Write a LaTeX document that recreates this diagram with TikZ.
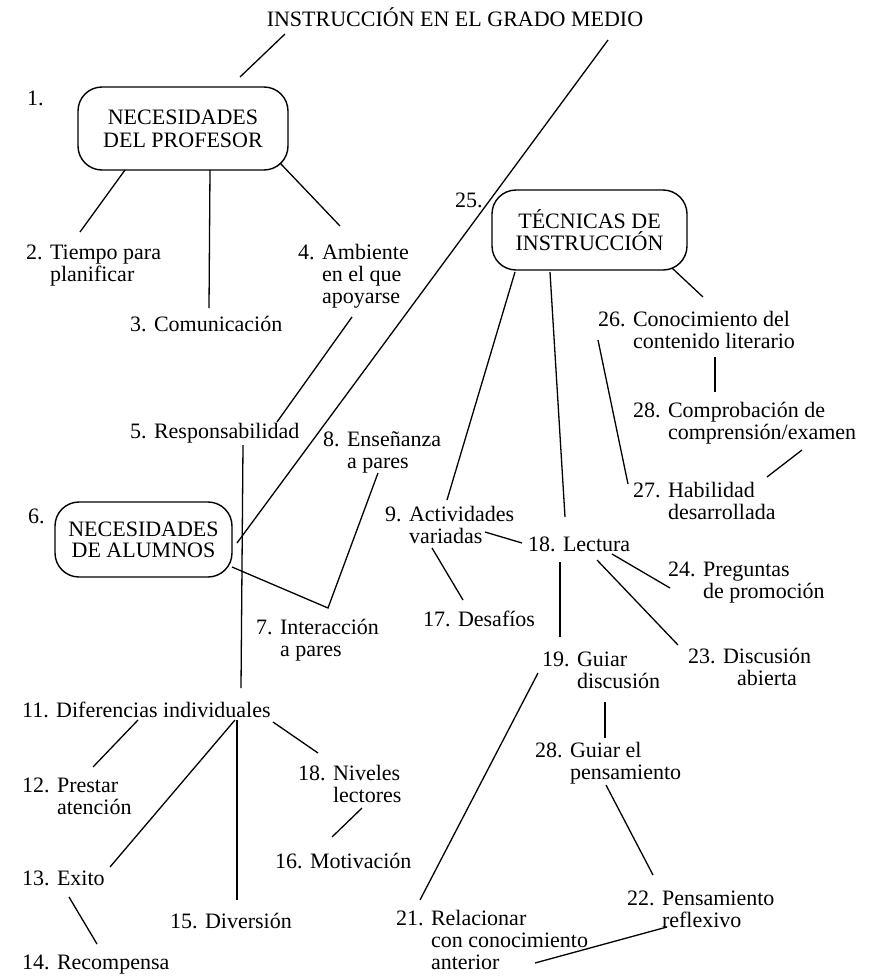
\documentclass[tikz,border=0pt]{standalone}
\usepackage{fontspec}
\setmainfont{Liberation Serif}
\usetikzlibrary{calc}
% numbered entry with hanging indent: number, then lines aligned under the first word
\newcommand{\entry}[2]{\begin{tabular}[t]{@{}r@{ }l@{}}#1&#2\end{tabular}}
\newcommand{\centry}[2]{\begin{tabular}[t]{@{}r@{ }c@{}}#1&#2\end{tabular}}
\begin{document}
\begin{tikzpicture}[x=1pt,y=-1pt,
  font=\fontsize{22}{22.4}\selectfont,
  lbl/.style={inner sep=0pt, anchor=base west},
  hub/.style={draw, line width=1.4pt, rounded corners=24pt, align=center, inner sep=0pt},
  link/.style={line width=1.3pt}]
\useasboundingbox (0,0) rectangle (887,977);

% title
\node[inner sep=0pt, anchor=base] (T) at (455,27) {INSTRUCCIÓN EN EL GRADO MEDIO};

% main boxes
\node[hub, minimum width=210pt, minimum height=83pt, font=\fontsize{22}{23}\selectfont] (B1) at (183,128.5) {NECESIDADES\\DEL PROFESOR};
\node[hub, minimum width=177pt, minimum height=75pt, font=\fontsize{22}{21}\selectfont] (B6) at (143.5,539.5) {NECESIDADES\\DE ALUMNOS};
\node[hub, minimum width=195pt, minimum height=80pt, font=\fontsize{22}{21.5}\selectfont] (BT) at (589.5,230) {TÉCNICAS DE\\INSTRUCCIÓN};

% box numbers
\node[lbl] (k1) at (27,105) {1.};
\node[lbl] (k6) at (28,523) {6.};
\node[lbl] (k25) at (455,207) {25.};

% left branch labels
\node[lbl] (n2) at (26,259) {\entry{2.}{Tiempo para\\&planificar}};
\node[lbl] (n3) at (130,331) {3. Comunicación};
\node[lbl] (n4) at (298,259) {\entry{4.}{Ambiente\\&en el que\\&apoyarse}};
\node[lbl] (n5) at (130,438) {5. Responsabilidad};
\node[lbl] (n8) at (323,446) {\entry{8.}{Enseñanza\\&a pares}};
\node[lbl] (n7) at (256,634) {\entry{7.}{Interacción\\&a pares}};
\node[lbl] (n11) at (22,717) {11. Diferencias individuales};
\node[lbl] (n12) at (22,792) {\entry{12.}{Prestar\\&atención}};
\node[lbl] (n18N) at (298,780) {\entry{18.}{Niveles\\&lectores}};
\node[lbl] (n16) at (275,868) {16. Motivación};
\node[lbl] (n13) at (22,885) {13. Exito};
\node[lbl] (n15) at (170,928) {15. Diversión};
\node[lbl] (n14) at (22,969) {14. Recompensa};

% right branch labels
\node[lbl] (n9) at (385,521) {\entry{9.}{Actividades\\&variadas}};
\node[lbl] (n18L) at (528,551) {18. Lectura};
\node[lbl] (n17) at (423,626) {17. Desafíos};
\node[lbl] (n26) at (598,326) {\entry{26.}{Conocimiento del\\&contenido literario}};
\node[lbl] (n28a) at (633,417) {\entry{28.}{Comprobación de\\&comprensión/examen}};
\node[lbl] (n27) at (633,497) {\entry{27.}{Habilidad\\&desarrollada}};
\node[lbl] (n24) at (668,576) {\entry{24.}{Preguntas\\&de promoción}};
\node[lbl] (n23) at (688,663) {\centry{23.}{Discusión\\&abierta}};
\node[lbl] (n19) at (542,666) {\entry{19.}{Guiar\\&discusión}};
\node[lbl] (n28b) at (535,757) {\entry{28.}{Guiar el\\&pensamiento}};
\node[lbl] (n22) at (627,905) {\entry{22.}{Pensamiento\\&reflexivo}};
\node[lbl] (n21) at (396,925) {\entry{21.}{Relacionar\\&con conocimiento\\&anterior}};

% connectors
\draw[link] ($(T.base)+(-170,7)$) -- ($(B1.center)+(57,-51.5)$);
\draw[link] ($(T.base)+(153,13)$) -- ($(B6.center)+(93.5,3.5)$);
\draw[link] ($(B1.center)+(-58,41.5)$) -- ($(n2.base west)+(54,-27)$);
\draw[link] ($(B1.center)+(27,41.5)$) -- ($(n3.base west)+(79,-23)$);
\draw[link] ($(B1.center)+(97,34.5)$) -- ($(n4.base west)+(42,-33)$);
\draw[link] ($(n4.base west)+(54,58)$) -- ($(n5.base west)+(147,-16)$);
\draw[link] ($(n5.base west)+(113,7)$) -- ($(n11.base west)+(219,-29)$);
\draw[link] ($(B6.center)+(88.5,27.5)$) -- ($(n7.base west)+(72,-26)$) -- ($(n8.base west)+(55,27)$);
\draw[link] ($(BT.center)+(-74.5,42)$) -- ($(n9.base west)+(62,-21)$);
\draw[link] ($(BT.center)+(-39.5,42)$) -- ($(n18L.base west)+(37,-34)$);
\draw[link] ($(BT.center)+(82.5,38)$) -- ($(n26.base west)+(105,-29)$);
\draw[link] ($(n26.base west)+(0,14)$) -- ($(n27.base west)+(-5,-13)$);
\draw[link] ($(n26.base west)+(117,31)$) -- ($(n28a.base west)+(82,-25)$);
\draw[link] ($(n28a.base west)+(169,33)$) -- ($(n27.base west)+(134,-20)$);
\draw[link] ($(n9.base west)+(100,11)$) -- ($(n18L.base west)+(-6,-8)$);
\draw[link] ($(n9.base west)+(47,27)$) -- ($(n17.base west)+(40,-26)$);
\draw[link] ($(n18L.base west)+(84,3)$) -- ($(n24.base west)+(2,12)$);
\draw[link] ($(n18L.base west)+(69,9)$) -- ($(n23.base west)+(-10,-18)$);
\draw[link] ($(n18L.base west)+(32,11)$) -- ($(n19.base west)+(18,-29)$);
\draw[link] ($(n19.base west)+(-4,7)$) -- ($(n21.base west)+(24,-25)$);
\draw[link] ($(n19.base west)+(63,36)$) -- ($(n28b.base west)+(70,-19)$);
\draw[link] ($(n28b.base west)+(71,28)$) -- ($(n22.base west)+(26,-30)$);
\draw[link] ($(n22.base west)+(40,22)$) -- ($(n21.base west)+(139,38)$);
\draw[link] ($(n11.base west)+(116,3)$) -- ($(n12.base west)+(71,-25)$);
\draw[link] ($(n11.base west)+(213,3)$) -- ($(n13.base west)+(88,-18)$);
\draw[link] ($(n11.base west)+(215,3)$) -- ($(n15.base west)+(67,-28)$);
\draw[link] ($(n11.base west)+(251,5)$) -- ($(n18N.base west)+(20,-27)$);
\draw[link] ($(n18N.base west)+(64,28)$) -- ($(n16.base west)+(57,-31)$);
\draw[link] ($(n13.base west)+(47,12)$) -- ($(n14.base west)+(75,-25)$);
\end{tikzpicture}
\end{document}
